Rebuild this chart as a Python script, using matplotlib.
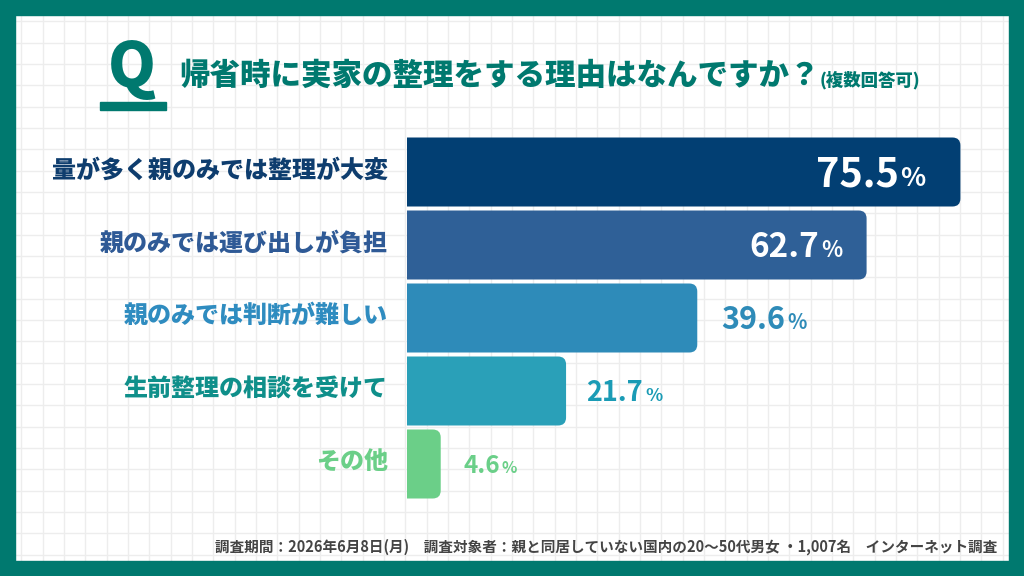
import matplotlib.pyplot as plt
from matplotlib.patches import FancyBboxPatch, Rectangle

plt.rcParams['font.family'] = ['Noto Sans CJK JP', 'DejaVu Sans']

categories = ["量が多く親のみでは整理が大変", "親のみでは運び出しが負担", "親のみでは判断が難しい",
              "生前整理の相談を受けて", "その他"]
values = [75.5, 62.7, 39.6, 21.7, 4.6]
bar_colors = ["#023f73", "#2f6097", "#2e8bb9", "#2aa0b8", "#6bcf88"]
label_colors = ["#0e3d6e", "#2f5a96", "#2f8cc0", "#0f8f8a", "#6bcf88"]
value_colors = ["white", "white", "#2e8bb8", "#1a9bb5", "#6acf88"]

title = "帰省時に実家の整理をする理由はなんですか？"
title_note = "(複数回答可)"
footer = "調査期間：2026年6月8日(月)　調査対象者：親と同居していない国内の20〜50代男女 ・1,007名　インターネット調査"
teal = "#00796f"

W, H = 1024, 576
fig = plt.figure(figsize=(W / 100, H / 100), dpi=100)

# background axes in pixel coordinates (grid)
bg = fig.add_axes([0, 0, 1, 1])
bg.set_xlim(0, W)
bg.set_ylim(H, 0)
bg.axis("off")
step = W / 48
x = 0.0
while x < W:
    bg.axvline(x, color="#ededed", lw=1, zorder=0)
    x += step
y = 0.0
while y < H:
    bg.axhline(y, color="#ededed", lw=1, zorder=0)
    y += step

# bar axes
px_per = 7.33
left_px = 407
top_px, row = 135.5, 73
ax_w = 600
ax = fig.add_axes([left_px / W, (H - (top_px + row * 5)) / H, ax_w / W, row * 5 / H])
ax.set_xlim(0, ax_w / px_per)
ax.set_ylim(len(values) - 0.5, -0.5)
ax.axis("off")
ax.patch.set_alpha(0)

h = 69 / row
rx = 8 / px_per
ry = 8 / row
for i, (v, c) in enumerate(zip(values, bar_colors)):
    ax.add_patch(FancyBboxPatch((-2 * rx, i - h / 2), v + 2 * rx, h,
                                boxstyle=f"round,pad=0,rounding_size={rx}",
                                mutation_aspect=ry / rx, fc=c, ec="none"))

# overlay axes for frame and text
fg = fig.add_axes([0, 0, 1, 1])
fg.set_xlim(0, W)
fg.set_ylim(H, 0)
fg.axis("off")
fg.patch.set_alpha(0)

b = 15
for r in [(0, 0, W, b), (0, H - b, W, b), (0, 0, b, H), (W - b, 0, b, H)]:
    fg.add_patch(Rectangle(r[:2], r[2], r[3], color=teal, zorder=5))

fg.text(132, 69, "Q", fontsize=44, fontweight="black", color=teal, ha="center", va="center")
fg.add_patch(Rectangle((100, 102), 66, 8, color=teal))
fg.text(179, 75, title, fontsize=22, fontweight="black", color=teal, ha="left", va="center")
fg.text(820, 80, title_note, fontsize=12.5, fontweight="black", color=teal, ha="left", va="center")
fg.text(997, 547, footer, fontsize=10.5, fontweight="bold", color="#444444", ha="right", va="center")

value_sizes = [28.5, 24, 22, 19.5, 17.5]
value_offsets = [-62, -47, 88, 77, 59]
for i, (cat, v) in enumerate(zip(categories, values)):
    yc = top_px + row * i + row / 2
    fg.text(388, yc - 2, cat, fontsize=17.3, fontweight="black", color=label_colors[i],
            ha="right", va="center")
    s = value_sizes[i]
    num_end = left_px + v * px_per + value_offsets[i]
    base = yc + 0.73 * s * 100 / 72 / 2
    fg.text(num_end, base, f"{v}", fontsize=s, fontweight="bold",
            color=value_colors[i], ha="right", va="baseline")
    fg.text(num_end + 2, base, "%", fontsize=s * 0.66, fontweight="bold",
            color=value_colors[i], ha="left", va="baseline")

fig.savefig("out.png", dpi=100)
